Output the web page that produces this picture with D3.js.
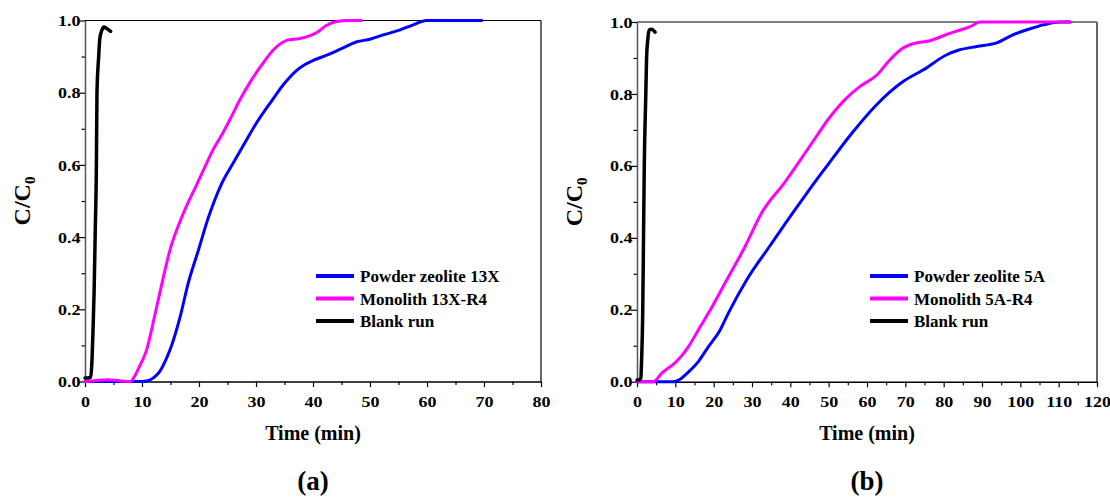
<!DOCTYPE html>
<html><head><meta charset="utf-8">
<script src="https://cdn.jsdelivr.net/npm/d3@7"></script>
<style>
body{margin:0;background:#fff;}
</style></head><body>
<svg id="chart" width="1110" height="497"></svg>
<script>
// ---------- data ----------
const xTicksA = [0,10,20,30,40,50,60,70,80];
const xTicksB = [0,10,20,30,40,50,60,70,80,90,100,110,120];
const yTicks = [0,0.2,0.4,0.6,0.8,1.0];
const legendA = ["Powder zeolite 13X","Monolith 13X-R4","Blank run"];
const legendB = ["Powder zeolite 5A","Monolith 5A-R4","Blank run"];
const seriesColors = ["#0000ff","#ff00ff","#000000"];
const panelLabels = ["(a)","(b)"];

// panel (a)
const tPowder13X = [0,5,10,11,12,13,13.6,14.9,16.7,18.1,19.9,21.6,24.0,26.0,28.0,30.0,32.7,35.0,37.0,38.6,40.1,42.4,45.0,47.7,50.0,52.3,55.3,57.6,59.9,65.0,69.6];
const cPowder13X = [0,0,0,0.002,0.01,0.025,0.041,0.087,0.18,0.272,0.364,0.452,0.549,0.605,0.66,0.714,0.776,0.826,0.86,0.878,0.89,0.904,0.922,0.941,0.948,0.96,0.974,0.988,1.0,1.0,1.0];
const tMono13X = [0,2,4,6,8,8.6,9.5,10.8,12.2,13.5,14.9,17.0,19.7,21.2,22.5,23.7,25.5,27.2,29.0,31.0,33.2,35.4,37.7,39.5,40.6,42.4,44.2,46.0,48.5];
const cMono13X = [0,0.003,0.005,0.002,0,0.012,0.04,0.087,0.18,0.272,0.364,0.456,0.549,0.60,0.643,0.675,0.728,0.781,0.83,0.877,0.921,0.945,0.95,0.958,0.966,0.987,0.997,1.0,1.0];
const tBlankA = [0,0.5,1.0,1.2,1.4,1.6,1.8,2.0,2.1,2.4,2.6,3.0,3.3,3.8,4.5];
const cBlankA = [0.01,0.01,0.012,0.05,0.14,0.25,0.42,0.6,0.8,0.9,0.95,0.975,0.982,0.978,0.97];

// panel (b)
const tPowder5A = [0,5,9.5,11,13.0,16.0,18.6,21.7,23.8,28.6,34.7,40.4,44.7,47.3,50.0,56.0,62.5,69.5,74.7,80.8,84,88.6,93.8,98.2,102.5,106,110.4,113];
const cPowder5A = [0,0,0,0.005,0.023,0.056,0.097,0.144,0.19,0.283,0.378,0.466,0.53,0.568,0.606,0.69,0.77,0.835,0.867,0.909,0.922,0.932,0.942,0.965,0.981,0.992,1.0,1.0];
const tMono5A = [0,2,4.3,6.4,10.3,13.4,16.0,18.6,23.4,28.2,32.5,38.6,44.7,50.8,54.7,58.2,62.5,66.0,69.0,72.1,76.4,81.7,86.9,89.5,95,105,113];
const cMono5A = [0,0,0,0.023,0.056,0.097,0.144,0.19,0.283,0.376,0.469,0.555,0.649,0.742,0.789,0.821,0.852,0.895,0.925,0.94,0.948,0.969,0.987,1.0,1.0,1.0,1.0];
const tBlankB = [0,0.5,1.0,1.2,1.5,1.7,1.9,2.3,2.5,2.8,3.2,3.8,4.7];
const cBlankB = [0.005,0.005,0.01,0.06,0.2,0.4,0.6,0.8,0.9,0.95,0.978,0.98,0.972];

// ---------- drawing ----------
const FONT = '"Liberation Serif", "Times New Roman", Times, serif';
const svg = d3.select("#chart");
const TICK_SX = 1.2;

function zip(t,c){ return t.map((d,i)=>({t:d,c:c[i]})); }
function txt(sel){ return sel.style("font-family",FONT).style("font-weight","bold").attr("fill","#000"); }

const panels = [
  {x0:85, x1:541, y0:20.5, y1:381.5, xmax:80, xticks:xTicksA, legend:legendA,
   series:[zip(tPowder13X,cPowder13X), zip(tMono13X,cMono13X), zip(tBlankA,cBlankA)], label:panelLabels[0], legX:316},
  {x0:637, x1:1097, y0:22, y1:381.7, xmax:120, xticks:xTicksB, legend:legendB,
   series:[zip(tPowder5A,cPowder5A), zip(tMono5A,cMono5A), zip(tBlankB,cBlankB)], label:panelLabels[1], legX:870}
];

panels.forEach((p,pi)=>{
  const x = d3.scaleLinear().domain([0,p.xmax]).range([p.x0,p.x1]);
  const y = d3.scaleLinear().domain([0,1]).range([p.y1,p.y0]);
  const g = svg.append("g");

  // frame top/right
  g.append("line").attr("x1",p.x0).attr("x2",p.x1).attr("y1",p.y0).attr("y2",p.y0)
    .attr("stroke","#000").attr("stroke-width",1.2);
  g.append("line").attr("x1",p.x1).attr("x2",p.x1).attr("y1",p.y0).attr("y2",p.y1)
    .attr("stroke", pi===1 ? "#666" : "#000").attr("stroke-width", pi===1 ? 2 : 1.2);

  // minor ticks
  const minorX = d3.range(5, p.xmax, 10);
  g.append("g").attr("transform",`translate(0,${p.y1})`)
    .call(d3.axisBottom(x).tickValues(minorX).tickSize(3.5).tickFormat(""))
    .call(s=>s.select(".domain").remove())
    .call(s=>s.selectAll("line").attr("stroke","#000").attr("stroke-width",1.2));
  g.append("g").attr("transform",`translate(${p.x0},0)`)
    .call(d3.axisLeft(y).tickValues([0.1,0.3,0.5,0.7,0.9]).tickSize(3.5).tickFormat(""))
    .call(s=>s.select(".domain").remove())
    .call(s=>s.selectAll("line").attr("stroke","#000").attr("stroke-width",1.2));

  // major x axis
  const gx = g.append("g").attr("transform",`translate(0,${p.y1})`)
    .call(d3.axisBottom(x).tickValues(p.xticks).tickSize(5.5).tickSizeOuter(0).tickFormat(d3.format("d")));
  gx.select(".domain").attr("stroke","#000").attr("stroke-width",1.5);
  gx.selectAll(".tick line").attr("stroke","#000").attr("stroke-width",1.2);
  txt(gx.selectAll(".tick text")).style("font-size","15px").attr("y",25.5).attr("dy",0)
    .attr("transform",`scale(${TICK_SX},1)`);

  // major y axis
  const gy = g.append("g").attr("transform",`translate(${p.x0},0)`)
    .call(d3.axisLeft(y).tickValues(yTicks).tickSize(6.5).tickSizeOuter(0).tickFormat(d3.format(".1f")));
  gy.select(".domain").attr("stroke","#555").attr("stroke-width",1.5);
  gy.selectAll(".tick line").attr("stroke","#000").attr("stroke-width",1.2);
  txt(gy.selectAll(".tick text")).style("font-size","15px").attr("x",-4.5/TICK_SX).attr("dy","0.34em")
    .attr("transform",`scale(${TICK_SX},1)`);

  // series
  const line = d3.line().x(d=>x(d.t)).y(d=>y(d.c)).curve(d3.curveMonotoneX);
  p.series.forEach((s,i)=>{
    g.append("path").datum(s).attr("d",line).attr("fill","none")
      .attr("stroke",seriesColors[i]).attr("stroke-width", i===2 ? 3.5 : 3)
      .attr("stroke-linejoin","round").attr("stroke-linecap","round");
  });

  // legend
  const lg = g.append("g");
  p.legend.forEach((name,i)=>{
    const yy = 276 + i*22.5;
    lg.append("line").attr("x1",p.legX).attr("x2",p.legX+38).attr("y1",yy).attr("y2",yy)
      .attr("stroke",seriesColors[i]).attr("stroke-width",4);
    txt(lg.append("text")).attr("x",p.legX+44).attr("y",yy+6).style("font-size","17px").text(name);
  });

  // axis titles
  const cx = (p.x0+p.x1)/2;
  txt(g.append("text")).attr("x",cx).attr("y",440).attr("text-anchor","middle")
    .style("font-size","20px").text("Time (min)");
  const yt = txt(g.append("text")).attr("transform",`translate(${p.x0-55},${(p.y0+p.y1)/2}) rotate(-90)`)
    .attr("text-anchor","middle").style("font-size","24px");
  yt.append("tspan").text("C/C");
  yt.append("tspan").style("font-size","15px").attr("dy",5).text("0");

  // panel label
  txt(g.append("text")).attr("x",cx).attr("y",490).attr("text-anchor","middle")
    .style("font-size","27px").text(p.label);
});
</script>
</body></html>
